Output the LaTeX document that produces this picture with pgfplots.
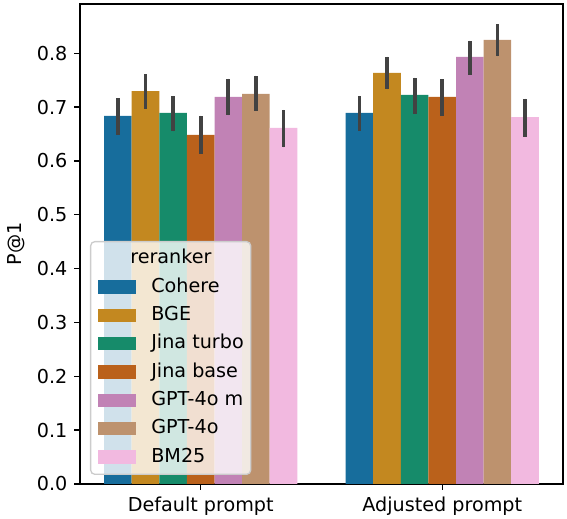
\documentclass[border=0pt]{standalone}
\usepackage{fontspec}
\setmainfont{DejaVu Sans}
\usepackage{pgfplots}
\usepackage{pgfplotstable}
\pgfplotsset{compat=1.18}
\definecolor{c1}{HTML}{176D9C}
\definecolor{c2}{HTML}{C38820}
\definecolor{c3}{HTML}{168B6A}
\definecolor{c4}{HTML}{BA611B}
\definecolor{c5}{HTML}{C182B5}
\definecolor{c6}{HTML}{BD926E}
\definecolor{c7}{HTML}{F2B9E0}
\definecolor{errgray}{HTML}{424242}
\pgfplotstableread{
x y hi lo
0 0.6835 0.7164 0.6488
1 0.6891 0.7207 0.6563
}\tcohere
\pgfplotstableread{
x y hi lo
0 0.7299 0.7609 0.6971
1 0.7634 0.7937 0.7330
}\tbge
\pgfplotstableread{
x y hi lo
0 0.6891 0.7207 0.6551
1 0.7225 0.7547 0.6872
}\tjinat
\pgfplotstableread{
x y hi lo
0 0.6482 0.6841 0.6129
1 0.7188 0.7516 0.6835
}\tjinab
\pgfplotstableread{
x y hi lo
0 0.7188 0.7528 0.6848
1 0.7931 0.8234 0.7603
}\tgptm
\pgfplotstableread{
x y hi lo
0 0.7244 0.7584 0.6928
1 0.8247 0.8538 0.7943
}\tgpt
\pgfplotstableread{
x y hi lo
0 0.6612 0.6947 0.6253
1 0.6816 0.7157 0.6451
}\tbm
\pgfplotsset{
  /pgfplots/ybar legend/.style={/pgfplots/legend image code/.code={\fill[##1, sharp corners, fill opacity=1] (0pt,-4pt) rectangle (23pt,4pt);}},
}
\begin{document}
\fontsize{11.5pt}{14pt}\selectfont
\begin{tikzpicture}
\begin{axis}[
  name=ax,
  scale only axis,
  width=289.8pt, height=288pt,
  ybar=0pt,
  bar width=0.1142857,
  xmin=-0.5, xmax=1.5,
  ymin=0, ymax=0.8915,
  xtick={0,1},
  xticklabels={Default prompt, Adjusted prompt},
  ytick={0,0.1,...,0.8},
  yticklabel style={/pgf/number format/.cd, fixed, fixed zerofill, precision=1},
  /pgf/number format/assume math mode=true,
  tick align=outside,
  tick pos=left,
  major tick length=3.5pt,
  every tick/.style={black, line width=0.8pt},
  axis line style={line width=0.8pt},
  ylabel={P@1},
  every axis y label/.style={at={(rel axis cs:0,0.5)}, xshift=-38pt, rotate=90, anchor=center},
  error bars/y dir=both,
  error bars/y explicit,
  error bars/error mark=none,
  error bars/error bar style={line width=2.25pt, color=errgray},
  legend style={at={(0.0207,0.01875)}, anchor=south west, fill=white, fill opacity=0.8, draw opacity=1, text opacity=1,
    draw=black!20, line width=0.8pt, rounded corners=2.5pt, inner xsep=4.2pt, inner ysep=5pt,
    row sep=6.4pt, column sep=9.2pt,
    nodes={inner sep=0pt, text height=8.3pt, text depth=2.3pt}},
  legend cell align=left,
]
\addlegendimage{empty legend}
\addlegendentry{\hspace*{-12.6pt}reranker}
\addplot[fill=c1, draw=none] table[x=x, y=y, y error plus expr=\thisrow{hi}-\thisrow{y}, y error minus expr=\thisrow{y}-\thisrow{lo}] {\tcohere};
\addlegendentry{Cohere}
\addplot[fill=c2, draw=none] table[x=x, y=y, y error plus expr=\thisrow{hi}-\thisrow{y}, y error minus expr=\thisrow{y}-\thisrow{lo}] {\tbge};
\addlegendentry{BGE}
\addplot[fill=c3, draw=none] table[x=x, y=y, y error plus expr=\thisrow{hi}-\thisrow{y}, y error minus expr=\thisrow{y}-\thisrow{lo}] {\tjinat};
\addlegendentry{Jina turbo}
\addplot[fill=c4, draw=none] table[x=x, y=y, y error plus expr=\thisrow{hi}-\thisrow{y}, y error minus expr=\thisrow{y}-\thisrow{lo}] {\tjinab};
\addlegendentry{Jina base}
\addplot[fill=c5, draw=none] table[x=x, y=y, y error plus expr=\thisrow{hi}-\thisrow{y}, y error minus expr=\thisrow{y}-\thisrow{lo}] {\tgptm};
\addlegendentry{GPT-4o m}
\addplot[fill=c6, draw=none] table[x=x, y=y, y error plus expr=\thisrow{hi}-\thisrow{y}, y error minus expr=\thisrow{y}-\thisrow{lo}] {\tgpt};
\addlegendentry{GPT-4o}
\addplot[fill=c7, draw=none] table[x=x, y=y, y error plus expr=\thisrow{hi}-\thisrow{y}, y error minus expr=\thisrow{y}-\thisrow{lo}] {\tbm};
\addlegendentry{BM25}
\end{axis}
\pgfresetboundingbox
\path ([xshift=-48pt,yshift=-21pt]ax.south west) rectangle ([xshift=2.4pt,yshift=2.4pt]ax.north east);
\end{tikzpicture}
\end{document}
